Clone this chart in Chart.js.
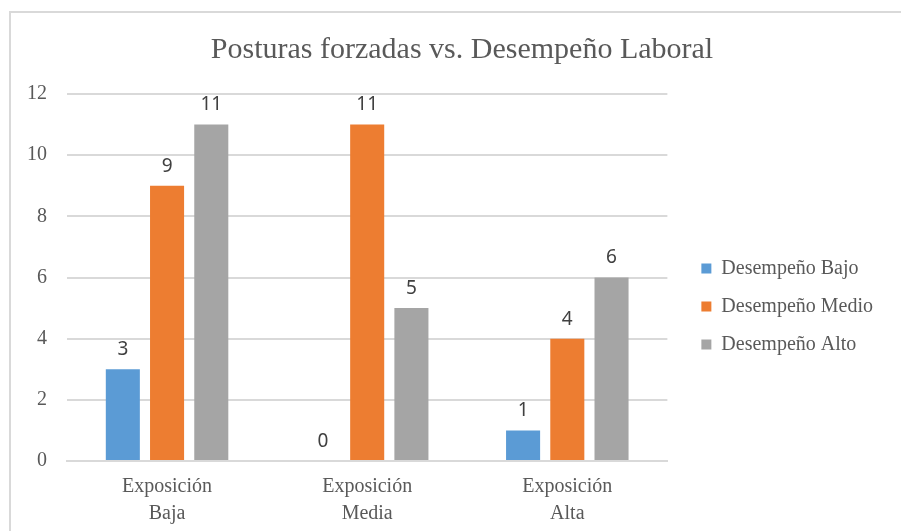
<!DOCTYPE html>
<html>
<head>
<meta charset="utf-8">
<script src="https://cdn.jsdelivr.net/npm/chart.js@4.4.0/dist/chart.umd.min.js"></script>
<style>
  body { margin: 0; background: #fff; }
  #wrap { position: relative; width: 901px; height: 531px; }
  #frame { position: absolute; left: 9px; top: 11px; right: 0; bottom: 0;
           border-top: 2px solid #D9D9D9; border-left: 2px solid #D9D9D9; }
  canvas { position: absolute; left: 0; top: 0; }
</style>
</head>
<body>
<div id="wrap">
  <div id="frame"></div>
  <canvas id="mycanvas" width="901" height="531"></canvas>
</div>
<script>
// datos
var categorias = [["Exposición", "Baja"], ["Exposición", "Media"], ["Exposición", "Alta"]];
var desempenoBajo = [3, 0, 1];
var desempenoMedio = [9, 11, 4];
var desempenoAlto = [11, 5, 6];

var serif = "'Liberation Serif', 'Times New Roman', serif";
var gris = "#595959";

// etiquetas encima de cada barra
var etiquetas = {
  id: "etiquetas",
  afterLayout: function(chart) {
    // centrar el titulo como en la figura y separar la leyenda del grafico
    chart.titleBlock.left += 50;
    chart.legend.left += 16;
    chart.legend.right += 16;
  },
  afterDatasetsDraw: function(chart) {
    var ctx = chart.ctx;
    ctx.save();
    ctx.font = "19px 'Noto Sans', sans-serif";
    ctx.fillStyle = "#404040";
    ctx.textAlign = "center";
    ctx.textBaseline = "bottom";
    chart.data.datasets.forEach(function(ds, i) {
      var meta = chart.getDatasetMeta(i);
      meta.data.forEach(function(bar, j) {
        ctx.fillText(ds.data[j], bar.x, bar.y - 10);
      });
    });
    ctx.restore();
  }
};

var chartdata = {
  labels: categorias,
  datasets: [
    { label: "Desempeño Bajo", backgroundColor: "#5B9BD5", data: desempenoBajo },
    { label: "Desempeño Medio", backgroundColor: "#ED7D31", data: desempenoMedio },
    { label: "Desempeño Alto", backgroundColor: "#A5A5A5", data: desempenoAlto }
  ]
};

var ctx = document.getElementById("mycanvas");
var grafico = new Chart(ctx, {
  type: "bar",
  data: chartdata,
  plugins: [etiquetas],
  options: {
    responsive: false,
    animation: false,
    layout: { padding: { left: 7, right: 34, top: 32, bottom: 0 } },
    datasets: { bar: { categoryPercentage: 0.663, barPercentage: 0.77 } },
    plugins: {
      title: {
        display: true,
        text: "Posturas forzadas vs. Desempeño Laboral",
        color: gris,
        font: { family: serif, size: 30, weight: "normal" },
        padding: { top: 0, bottom: 26 }
      },
      legend: {
        position: "right",
        title: { display: true, text: " ", padding: 13, font: { size: 20 } },
        labels: {
          boxWidth: 10, boxHeight: 10, padding: 18,
          color: gris,
          font: { family: serif, size: 20 }
        }
      },
      tooltip: { enabled: false }
    },
    scales: {
      x: {
        grid: { display: false },
        border: { color: "#D9D9D9", width: 2 },
        ticks: { color: gris, font: { family: serif, size: 20, lineHeight: 1.35 }, padding: 4 }
      },
      y: {
        min: 0, max: 12,
        ticks: { stepSize: 2, color: gris, padding: 20, font: { family: serif, size: 20 } },
        grid: { color: "#D9D9D9", lineWidth: 2, drawTicks: false },
        border: { display: false }
      }
    }
  }
});
</script>
</body>
</html>
